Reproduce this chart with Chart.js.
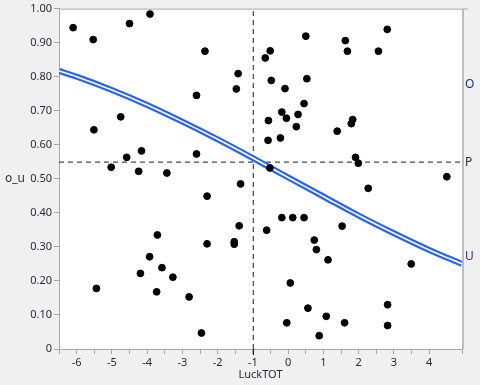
<!DOCTYPE html>
<html>
<head>
<meta charset="utf-8">
<script src="https://cdn.jsdelivr.net/npm/chart.js@4"></script>
<style>
  html, body { margin: 0; padding: 0; background: #f0f0f0; }
</style>
</head>
<body>
<canvas id="chart" width="480" height="385"></canvas>
<script>
// LuckTOT vs o_u
const luckTot = [
  -6.10, -5.53, -4.50, -3.92, -2.36, -1.42, -1.47, -2.60, -4.75, -5.51,
  -4.16, -4.58, -2.60, -5.02, -4.24, -3.44, -1.35,
  0.50, -0.51, -0.65, 1.62, 1.68, 2.56, 2.81, -0.48, 0.53,
  -0.09, 0.45, -0.18, -0.05, 0.28, -0.56, 0.23, -0.57, -0.22, 1.39,
  1.83, 1.79, 1.91, 1.99, -0.52, 2.27, 4.50,
  -2.30, -1.39, -3.71, -2.30, -1.53, -1.53, -3.93, -4.19, -3.58, -3.27,
  -5.44, -3.73, -2.81, -2.46,
  -0.18, 0.13, 0.45, -0.61, 1.53, 0.74, 0.80, 1.13, 3.49, 0.06,
  0.56, 2.82, 1.08, -0.04, 1.60, 2.82, 0.88
];
const oU = [
  0.944, 0.909, 0.956, 0.984, 0.875, 0.809, 0.764, 0.745, 0.682, 0.644,
  0.582, 0.563, 0.573, 0.534, 0.522, 0.517, 0.485,
  0.919, 0.876, 0.855, 0.906, 0.875, 0.875, 0.939, 0.789, 0.794,
  0.765, 0.721, 0.696, 0.678, 0.689, 0.671, 0.653, 0.613, 0.620, 0.640,
  0.674, 0.662, 0.563, 0.546, 0.532, 0.472, 0.506,
  0.449, 0.362, 0.335, 0.309, 0.315, 0.308, 0.271, 0.222, 0.239, 0.211,
  0.178, 0.168, 0.153, 0.047,
  0.386, 0.386, 0.386, 0.349, 0.361, 0.320, 0.292, 0.262, 0.250, 0.194,
  0.120, 0.130, 0.096, 0.077, 0.077, 0.069, 0.039
];

// fitted curve, read at a few x positions
const fitX = [-6.5, -6, -5, -4, -3, -2, -1, 0, 1, 2, 3, 4, 4.93];
const fitY = [0.817, 0.800, 0.761, 0.717, 0.668, 0.616, 0.561, 0.504, 0.448, 0.392, 0.340, 0.291, 0.250];

const meanLuck = -0.99;
const meanOU = 0.549;
const xMin = -6.5, xMax = 4.93;

const textColor = '#2b2b33';
const axisColor = '#a6a6a6';

function toPoints(xs, ys) {
  return xs.map(function(x, i) { return { x: x, y: ys[i] }; });
}

const fitPts = toPoints(fitX, fitY);

const bgPlugin = {
  id: 'bg',
  beforeDraw(chart) {
    const ctx = chart.ctx, a = chart.chartArea;
    ctx.save();
    ctx.fillStyle = '#f0f0f0';
    ctx.fillRect(0, 0, chart.width, chart.height);
    ctx.fillStyle = '#ffffff';
    ctx.fillRect(a.left, a.top, a.right - a.left, a.bottom - a.top);
    ctx.restore();
  },
  afterDraw(chart) {
    const ctx = chart.ctx, a = chart.chartArea;
    const x = chart.scales.x, y = chart.scales.y;
    ctx.save();
    // frame top + right
    ctx.strokeStyle = axisColor;
    ctx.lineWidth = 1;
    ctx.beginPath();
    ctx.moveTo(a.left, a.top + 0.5);
    ctx.lineTo(a.right + 6, a.top + 0.5);
    ctx.stroke();
    ctx.strokeStyle = '#bdbdbd';
    ctx.lineWidth = 2;
    ctx.beginPath();
    ctx.moveTo(a.right + 1, a.top);
    ctx.lineTo(a.right + 1, a.bottom);
    ctx.stroke();

    // mean line runs on into the tick area
    const mx = Math.round(x.getPixelForValue(meanLuck)) + 0.5;
    ctx.strokeStyle = '#1a1a1a';
    ctx.lineWidth = 1;
    ctx.beginPath();
    ctx.moveTo(mx, a.bottom);
    ctx.lineTo(mx, a.bottom + 6);
    ctx.stroke();

    // level labels on the right
    ctx.font = '12px "Noto Sans"';
    ctx.textAlign = 'left';
    ctx.textBaseline = 'middle';
    const levels = [
      { t: 'O', v: 0.778, c: '#1f2f6e' },
      { t: 'P', v: meanOU, c: '#2b2b33' },
      { t: 'U', v: 0.271, c: '#4a2377' }
    ];
    levels.forEach(function(l) {
      ctx.fillStyle = l.c;
      ctx.fillText(l.t, a.right + 3, y.getPixelForValue(l.v));
    });

    // y title
    ctx.fillStyle = textColor;
    ctx.textAlign = 'center';
    ctx.fillText('o_u', 15, y.getPixelForValue(0.5));
    ctx.restore();
  }
};

new Chart(document.getElementById('chart'), {
  type: 'scatter',
  data: {
    datasets: [
      {
        label: 'o_u',
        data: toPoints(luckTot, oU),
        backgroundColor: '#000000',
        borderColor: '#000000',
        pointRadius: 3.4,
        order: 1
      },
      {
        label: 'fit inner',
        type: 'line',
        data: fitPts,
        borderColor: '#ffffff',
        borderWidth: 1.6,
        pointRadius: 0,
        cubicInterpolationMode: 'monotone',
        order: 2
      },
      {
        label: 'fit',
        type: 'line',
        data: fitPts,
        borderColor: '#2864f2',
        borderWidth: 6,
        pointRadius: 0,
        cubicInterpolationMode: 'monotone',
        order: 3
      },
      {
        label: 'mean x',
        type: 'line',
        data: [{ x: meanLuck, y: 0 }, { x: meanLuck, y: 1 }],
        borderColor: '#1a1a1a',
        borderWidth: 1,
        borderDash: [5, 4],
        pointRadius: 0,
        order: 4
      },
      {
        label: 'mean y',
        type: 'line',
        data: [{ x: xMin, y: meanOU }, { x: xMax, y: meanOU }],
        borderColor: '#1a1a1a',
        borderWidth: 1,
        borderDash: [5, 4],
        pointRadius: 0,
        order: 5
      }
    ]
  },
  options: {
    responsive: false,
    animation: false,
    layout: { padding: { top: 6, right: 18, left: 0, bottom: 0 } },
    plugins: {
      legend: { display: false },
      tooltip: { enabled: false }
    },
    scales: {
      x: {
        type: 'linear',
        min: xMin,
        max: xMax,
        afterFit: function(s) { s.height = 36; },
        ticks: {
          stepSize: 0.5,
          autoSkip: false,
          maxRotation: 0,
          padding: 2,
          color: textColor,
          font: { family: 'Noto Sans', size: 11 },
          callback: function(v) { return Number.isInteger(v) ? String(v) : ''; }
        },
        grid: { drawOnChartArea: false, tickLength: 5, color: axisColor },
        border: { color: axisColor },
        title: {
          display: true,
          text: 'LuckTOT',
          color: textColor,
          font: { family: 'Noto Sans', size: 11 },
          padding: { top: 0, bottom: 4 }
        }
      },
      y: {
        min: 0,
        max: 1,
        afterFit: function(s) { s.width = 59; },
        ticks: {
          stepSize: 0.1,
          padding: 2,
          color: textColor,
          font: { family: 'Noto Sans', size: 11 },
          callback: function(v) { return v === 0 ? '0' : v.toFixed(2); }
        },
        grid: { drawOnChartArea: false, tickLength: 5, color: axisColor },
        border: { color: axisColor }
      }
    }
  },
  plugins: [bgPlugin]
});
</script>
</body>
</html>
